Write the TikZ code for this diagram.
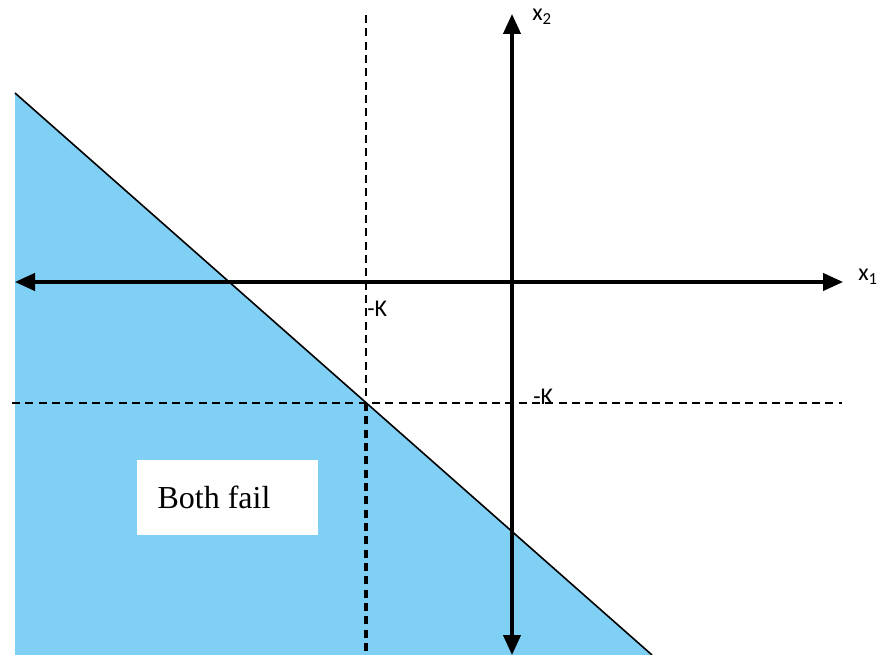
\documentclass[tikz,border=0pt]{standalone}
\usepackage{fontspec}
\setmainfont{Liberation Serif}
\newfontfamily\lblfont{Carlito}
\usetikzlibrary{arrows.meta}
\definecolor{areablue}{RGB}{128,208,245}
\tikzset{
  axis/.style={line width=2.4pt,-{Triangle[length=15pt,width=13pt]}},
  dashln/.style={line width=1.4pt,dash pattern=on 6pt off 4pt},
  bolddash/.style={line width=3pt,dash pattern=on 6pt off 4pt},
  lbl/.style={font=\lblfont\fontsize{18}{21}\selectfont,inner sep=0pt},
}
\begin{document}
\begin{tikzpicture}[x=0.75pt,y=-0.75pt]
\useasboundingbox (0,0) rectangle (878,655);
\clip (0,0) rectangle (878,655);
% shaded region
\coordinate (ptop) at (15,93);
\coordinate (pbot) at (652,655);
\fill[areablue] (ptop) -- (pbot) -- (15,655) -- cycle;
\draw[line width=1.2pt] (ptop) -- (pbot);
% box
\node[fill=white,minimum width=181*0.75pt,minimum height=75*0.75pt,inner sep=0pt] (box) at (227.5,497.5) {};
\node[inner sep=0pt,font=\fontsize{24}{28}\selectfont] (boxtext) at (214,497) {Both fail};
% dashed lines
\coordinate (vt) at (366,15);
\coordinate (vm) at (366,403);
\coordinate (vb) at (366,655);
\coordinate (hl) at (12,403);
\coordinate (hr) at (842,403);
\draw[dashln] (vt) -- (vm);
\draw[bolddash] (vm) -- (vb);
\draw[dashln] (hl) -- (hr);
% axes
\coordinate (o) at (512,282);
\coordinate (xl) at (15,282);
\coordinate (xr) at (843,282);
\coordinate (yt) at (512,14);
\coordinate (yb) at (512,655);
\draw[axis] (o) -- (xr);
\draw[axis] (o) -- (xl);
\draw[axis] (o) -- (yt);
\draw[axis] (o) -- (yb);
% labels
\node[lbl,anchor=base west] (x1) at (858,281) {x\textsubscript{1}};
\node[lbl,anchor=base west] (x2) at (532,21) {x\textsubscript{2}};
\node[lbl,anchor=base west] (k1) at (367,317) {-K};
\node[lbl,anchor=base west] (k2) at (533,405) {-K};
\end{tikzpicture}
\end{document}
